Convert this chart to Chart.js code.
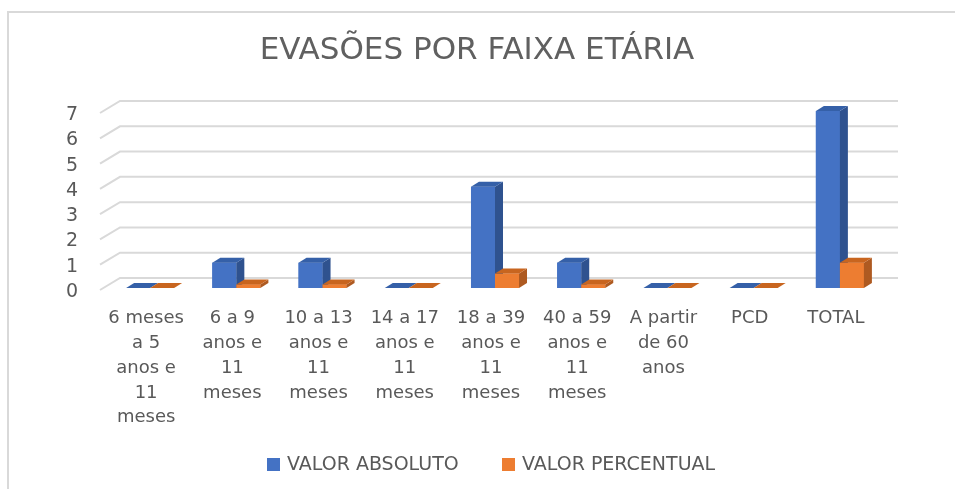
<!DOCTYPE html>
<html>
<head>
<meta charset="utf-8">
<script src="https://cdn.jsdelivr.net/npm/chart.js@4"></script>
<style>
  html, body { margin: 0; padding: 0; background: #fff; overflow: hidden; }
  #wrap { position: absolute; left: 0; top: 0; width: 955px; height: 489px; }
</style>
</head>
<body>
<div id="wrap"><canvas id="evasoesChart"></canvas></div>
<script>
const chartTitle = "EVASÕES POR FAIXA ETÁRIA";
const categories = [
  ["6 meses", "a 5", "anos e", "11", "meses"],
  ["6 a 9", "anos e", "11", "meses"],
  ["10 a 13", "anos e", "11", "meses"],
  ["14 a 17", "anos e", "11", "meses"],
  ["18 a 39", "anos e", "11", "meses"],
  ["40 a 59", "anos e", "11", "meses"],
  ["A partir", "de 60", "anos"],
  ["PCD"],
  ["TOTAL"],
];
const valorAbsoluto = [0, 1, 1, 0, 4, 1, 0, 0, 7];
const valorPercentual = [0, 0.14, 0.14, 0, 0.57, 0.14, 0, 0, 1];
const yTicks = [0, 1, 2, 3, 4, 5, 6, 7];

const TEXT = "#595959";
const FONT = "'DejaVu Sans', sans-serif";
const faces = [
  { front: "#4472C4", side: "#2F528F", top: "#3560A8" },
  { front: "#ED7D31", side: "#AE5A21", top: "#C8651F" },
];
const DEPTH_X = 8;
const DEPTH_Y = -5;

// frame, title, back-wall gridlines, 3d bar faces and legend
const decorPlugin = {
  id: "decor",
  beforeDraw(chart) {
    const ctx = chart.ctx;
    ctx.save();
    ctx.fillStyle = "#d9d9d9";
    ctx.fillRect(7, 11, 2, 478);
    ctx.fillRect(7, 11, 948, 2);
    ctx.fillStyle = "#606060";
    ctx.font = "31px " + FONT;
    ctx.textAlign = "center";
    ctx.textBaseline = "middle";
    ctx.fillText(chartTitle, 477, 51);
    ctx.restore();
  },
  beforeDatasetsDraw(chart) {
    const ctx = chart.ctx;
    const y = chart.scales.y;
    const left = chart.chartArea.left - 7;
    ctx.save();
    ctx.strokeStyle = "#d9d9d9";
    ctx.lineWidth = 2;
    yTicks.forEach((v) => {
      const py = y.getPixelForValue(v);
      ctx.beginPath();
      ctx.moveTo(left, py + 2);
      ctx.lineTo(left + 20, py - 10);
      ctx.lineTo(898, py - 10);
      ctx.stroke();
    });
    ctx.restore();
  },
  afterDatasetsDraw(chart) {
    const ctx = chart.ctx;
    ctx.save();
    // repaint blue first, then orange, so each bar sits in front of the one on its left
    chart.data.datasets.forEach((ds, i) => {
      const c = faces[i];
      chart.getDatasetMeta(i).data.forEach((bar) => {
        const p = bar.getProps(["x", "y", "base", "width"], true);
        const x1 = p.x - p.width / 2;
        const x2 = p.x + p.width / 2;
        const top = Math.min(p.y, p.base);
        ctx.fillStyle = c.front;
        ctx.fillRect(x1, top, p.width, Math.abs(p.base - p.y));
        ctx.fillStyle = c.side;
        ctx.beginPath();
        ctx.moveTo(x2, top);
        ctx.lineTo(x2 + DEPTH_X, top + DEPTH_Y);
        ctx.lineTo(x2 + DEPTH_X, p.base + DEPTH_Y);
        ctx.lineTo(x2, p.base);
        ctx.closePath();
        ctx.fill();
        ctx.fillStyle = c.top;
        ctx.beginPath();
        ctx.moveTo(x1, top);
        ctx.lineTo(x1 + DEPTH_X, top + DEPTH_Y);
        ctx.lineTo(x2 + DEPTH_X, top + DEPTH_Y);
        ctx.lineTo(x2, top);
        ctx.closePath();
        ctx.fill();
      });
    });
    ctx.restore();
  },
  afterDraw(chart) {
    const ctx = chart.ctx;
    const items = [
      { x: 267, label: chart.data.datasets[0].label, color: faces[0].front },
      { x: 502, label: chart.data.datasets[1].label, color: faces[1].front },
    ];
    ctx.save();
    ctx.font = "19px " + FONT;
    ctx.textBaseline = "middle";
    ctx.textAlign = "left";
    items.forEach((it) => {
      ctx.fillStyle = it.color;
      ctx.fillRect(it.x, 458, 13, 13);
      ctx.fillStyle = TEXT;
      ctx.fillText(it.label, it.x + 20, 465);
    });
    ctx.restore();
  },
};

new Chart(document.getElementById("evasoesChart"), {
  type: "bar",
  data: {
    labels: categories,
    datasets: [
      {
        label: "VALOR ABSOLUTO",
        data: valorAbsoluto,
        backgroundColor: faces[0].front,
      },
      {
        label: "VALOR PERCENTUAL",
        data: valorPercentual,
        backgroundColor: faces[1].front,
      },
    ],
  },
  options: {
    responsive: true,
    maintainAspectRatio: false,
    animation: false,
    devicePixelRatio: 1,
    layout: { padding: { top: 111, right: 72, bottom: 0, left: 0 } },
    datasets: {
      bar: { categoryPercentage: 0.557, barPercentage: 1, borderWidth: 0 },
    },
    plugins: {
      legend: { display: false },
      title: { display: false },
      tooltip: { enabled: false },
    },
    scales: {
      x: {
        grid: { display: false, drawTicks: false },
        border: { display: false },
        ticks: {
          color: TEXT,
          font: { family: FONT, size: 18, lineHeight: 1.38 },
          padding: 18,
          labelOffset: -4,
          maxRotation: 0,
          autoSkip: false,
        },
        afterFit(scale) {
          scale.height = 201;
        },
      },
      y: {
        min: 0,
        max: 7,
        grid: { display: false, drawTicks: false },
        border: { display: false },
        ticks: {
          stepSize: 1,
          autoSkip: false,
          color: TEXT,
          font: { family: FONT, size: 19 },
          padding: 29,
          labelOffset: 4,
        },
        afterFit(scale) {
          scale.width = 107;
        },
      },
    },
  },
  plugins: [decorPlugin],
});
</script>
</body>
</html>
